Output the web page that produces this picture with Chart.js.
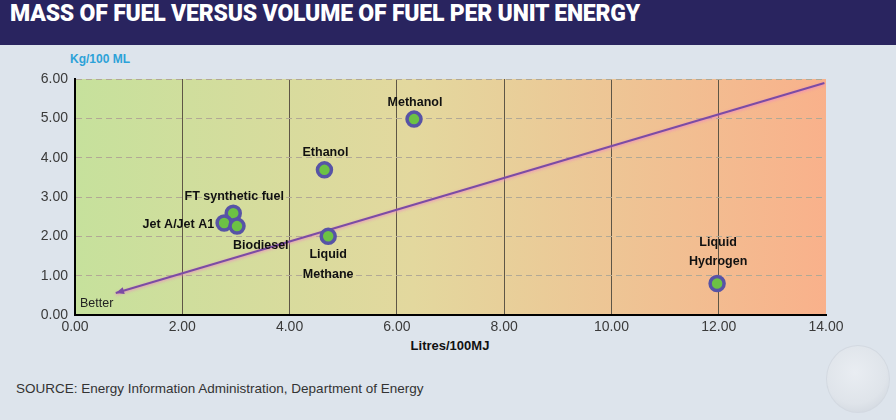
<!DOCTYPE html>
<html>
<head>
<meta charset="utf-8">
<script src="https://cdn.jsdelivr.net/npm/chart.js@4"></script>
<style>
  html, body { margin: 0; padding: 0; }
  body { width: 896px; height: 420px; background: #dde4ec; position: relative; overflow: hidden; font-family: "Liberation Sans", Arial, sans-serif; }
  #titlebar { position: absolute; left: 0; top: 0; width: 896px; height: 45px; background: #29245f; }
  #titlebar span { position: absolute; left: 10px; top: 0px; color: #fff; font: 900 23px Roboto, "DejaVu Sans", sans-serif; white-space: nowrap; letter-spacing: -0.2px; }
  #ytitle { position: absolute; left: 70px; top: 52px; color: #2da2d8; font: bold 12px "Liberation Sans", Arial, sans-serif; }
  #xtitle { position: absolute; left: 0; width: 900px; text-align: center; top: 338px; color: #111; font: bold 13px "Liberation Sans", sans-serif; }
  #source { position: absolute; left: 16px; top: 381px; color: #333; font: 13.5px "Liberation Sans", sans-serif; }
  #logo { position: absolute; left: 826px; top: 345px; width: 62px; height: 66px; border-radius: 50%;
          background: radial-gradient(circle at 45% 40%, #e9edf2 0%, #dfe4ea 60%, #c9d0d9 100%); border: 1px solid #d3d9e1; }
  #chart { position: absolute; left: 0; top: 0; }
</style>
</head>
<body>
<div id="titlebar"><span>MASS OF FUEL VERSUS VOLUME OF FUEL PER UNIT ENERGY</span></div>
<div id="ytitle">Kg/100 ML</div>
<div id="xtitle">Litres/100MJ</div>
<div id="source">SOURCE: Energy Information Administration, Department of Energy</div>
<div id="logo"></div>
<canvas id="chart" width="896" height="420"></canvas>
<script>
// 燃料ごとの値（Litres/100MJ, Kg/100 ML）
const fuels = ['Methanol', 'Ethanol', 'FT synthetic fuel', 'Jet A/Jet A1', 'Biodiesel', 'Liquid\nMethane', 'Liquid\nHydrogen'];
const litres = [6.32, 4.65, 2.95, 2.78, 3.02, 4.72, 11.97];
const kgs = [4.98, 3.69, 2.59, 2.34, 2.26, 2.00, 0.80];
const labelSide = ['above', 'above', 'above', 'left', 'belowRight', 'below', 'above2'];

// "Better" の矢印線
const trendX = [0.76, 13.97];
const trendY = [0.56, 5.90];

const xTicks = [0, 2, 4, 6, 8, 10, 12, 14];
const yTicks = [0, 1, 2, 3, 4, 5, 6];

const bgPlugin = {
    id: 'bg',
    beforeDraw(chart) {
        const { ctx, chartArea: a } = chart;
        const g = ctx.createLinearGradient(a.left, 0, a.right, 0);
        g.addColorStop(0, '#c6e19c');
        g.addColorStop(0.45, '#e3d89e');
        g.addColorStop(1, '#f9b18b');
        ctx.save();
        ctx.fillStyle = g;
        ctx.fillRect(a.left, a.top, a.right - a.left, a.bottom - a.top);
        ctx.restore();
    },
    // 線のピンクのにじみ
    beforeDatasetDraw(chart, args) {
        if (args.index !== 0) return;
        chart.ctx.save();
        chart.ctx.shadowColor = 'rgba(238,130,200,0.9)';
        chart.ctx.shadowBlur = 3;
        chart.ctx.shadowOffsetY = 1;
    },
    afterDatasetDraw(chart, args) {
        if (args.index !== 0) return;
        chart.ctx.restore();
    }
};

const labelPlugin = {
    id: 'labels',
    afterDatasetsDraw(chart) {
        const { ctx, chartArea: a } = chart;
        ctx.save();
        ctx.fillStyle = '#111';
        ctx.font = 'bold 12.5px "Liberation Sans", Arial, sans-serif';
        ctx.textBaseline = 'middle';
        const pts = chart.getDatasetMeta(1).data;
        pts.forEach((p, i) => {
            const lines = fuels[i].split('\n');
            const side = labelSide[i];
            if (side === 'above') {
                ctx.textAlign = 'center';
                ctx.fillText(lines[0], p.x + 1, p.y - 17);
            } else if (side === 'above2') {
                ctx.textAlign = 'center';
                ctx.fillText(lines[0], p.x + 1, p.y - 41);
                ctx.fillText(lines[1], p.x + 1, p.y - 22);
            } else if (side === 'left') {
                ctx.textAlign = 'right';
                ctx.fillText(lines[0], p.x - 10, p.y + 2);
            } else if (side === 'belowRight') {
                ctx.textAlign = 'left';
                ctx.fillText(lines[0], p.x - 4, p.y + 19);
            } else {
                ctx.textAlign = 'center';
                ctx.fillText(lines[0], p.x, p.y + 18);
                ctx.fillText(lines[1], p.x, p.y + 38);
            }
        });

        // 矢印の先端
        const t = chart.getDatasetMeta(0).data;
        const p0 = t[0], p1 = t[1];
        const ang = Math.atan2(p0.y - p1.y, p0.x - p1.x);
        ctx.fillStyle = '#7b4ca4';
        ctx.beginPath();
        ctx.moveTo(p0.x, p0.y);
        ctx.lineTo(p0.x - 9 * Math.cos(ang - 0.4), p0.y - 9 * Math.sin(ang - 0.4));
        ctx.lineTo(p0.x - 9 * Math.cos(ang + 0.4), p0.y - 9 * Math.sin(ang + 0.4));
        ctx.closePath();
        ctx.fill();

        ctx.fillStyle = '#222';
        ctx.font = '12.5px "Liberation Sans", Arial, sans-serif';
        ctx.textAlign = 'left';
        ctx.fillText('Better', a.left + 5, a.bottom - 11);
        ctx.restore();
    }
};

new Chart(document.getElementById('chart'), {
    type: 'scatter',
    data: {
        datasets: [{
            label: 'Better',
            data: trendX.map((x, i) => ({ x: x, y: trendY[i] })),
            showLine: true,
            borderColor: '#7b4ca4',
            borderWidth: 2,
            pointRadius: 0,
            order: 2
        }, {
            label: 'Fuels',
            data: litres.map((x, i) => ({ x: x, y: kgs[i] })),
            pointRadius: 7,
            borderWidth: 3.5,
            borderColor: '#5753a6',
            backgroundColor: '#6cc244',
            order: 1
        }]
    },
    options: {
        responsive: false,
        animation: false,
        layout: { padding: { top: 79, right: 70, left: 0, bottom: 0 } },
        plugins: {
            legend: { display: false },
            tooltip: { enabled: false }
        },
        scales: {
            x: {
                type: 'linear',
                min: xTicks[0],
                max: xTicks[xTicks.length - 1],
                afterBuildTicks: (s) => { s.ticks = xTicks.map(v => ({ value: v })); },
                afterFit: (s) => { s.height = 105; },
                ticks: {
                    padding: 4,
                    color: '#3a3a3a',
                    font: { family: '"Liberation Sans", Arial, sans-serif', size: 14 },
                    callback: (v) => v.toFixed(2)
                },
                grid: {
                    drawTicks: false,
                    color: (c) => (c.tick && (c.tick.value === 0 || c.tick.value === 14)) ? 'rgba(0,0,0,0)' : '#5e5646',
                    lineWidth: 1
                },
                border: { color: '#000', width: 2 }
            },
            y: {
                min: yTicks[0],
                max: yTicks[yTicks.length - 1],
                afterBuildTicks: (s) => { s.ticks = yTicks.map(v => ({ value: v })); },
                afterFit: (s) => { s.width = 75; },
                ticks: {
                    padding: 7,
                    color: '#3a3a3a',
                    font: { family: '"Liberation Sans", Arial, sans-serif', size: 14 },
                    callback: (v) => v.toFixed(2)
                },
                grid: {
                    drawTicks: false,
                    color: '#b2a995',
                    lineWidth: 1
                },
                border: { color: '#000', width: 2, dash: [6, 4] }
            }
        }
    },
    plugins: [bgPlugin, labelPlugin]
});
</script>
</body>
</html>
